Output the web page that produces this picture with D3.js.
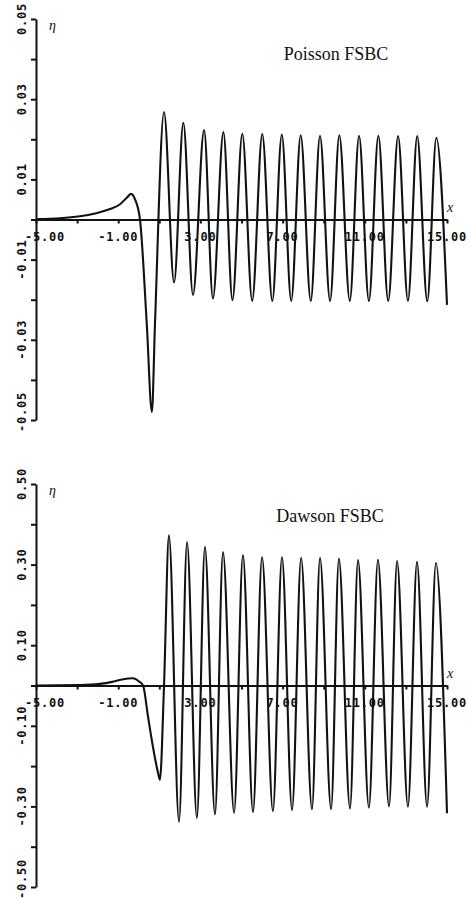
<!DOCTYPE html>
<html><head><meta charset="utf-8">
<script src="https://cdn.jsdelivr.net/npm/d3@7"></script>
<style>
body{margin:0;background:#fff;}
svg{display:block;}
.tl{font-family:"DejaVu Sans Mono",monospace;font-weight:bold;font-size:12px;fill:#111;letter-spacing:0.8px;}
.title{font-family:"Liberation Serif","DejaVu Serif",serif;font-size:18px;fill:#111;}
.sym{font-family:"Liberation Serif","DejaVu Serif",serif;font-size:14px;font-style:italic;fill:#111;}
</style></head><body>
<svg id="chart" width="468" height="900"></svg>
<script>
// ---- data ----
const xTicks = [-5,-3,-1,1,3,5,7,9,11,13,15];
const xLabels = [-5,-1,3,7,11,15];

const poissonYTicks = [-0.05,-0.04,-0.03,-0.02,-0.01,0,0.01,0.02,0.03,0.04,0.05];
const poissonYLabels = [-0.05,-0.03,-0.01,0.01,0.03,0.05];
const dawsonYTicks = [-0.5,-0.4,-0.3,-0.2,-0.1,0,0.1,0.2,0.3,0.4,0.5];
const dawsonYLabels = [-0.5,-0.3,-0.1,0.1,0.3,0.5];

const poissonX = [-5.00,-3.83,-2.86,-2.13,-1.40,-0.91,-0.57,-0.38,-0.18,0.06,0.39,0.64,0.79,1.23,
  1.72,2.17,2.64,3.18,3.61,4.12,4.56,5.04,5.52,6.01,6.50,6.96,7.42,7.88,8.37,8.82,9.31,9.76,
  10.27,10.72,11.20,11.66,12.14,12.62,13.10,13.55,14.04,14.48,15.00];
const poissonEta = [0.0001,0.0003,0.0008,0.0015,0.0026,0.0038,0.0055,0.0064,0.0050,0.0,-0.026,-0.048,-0.026,0.0268,
  -0.0157,0.0241,-0.0188,0.0223,-0.0197,0.0218,-0.0201,0.0214,-0.0203,0.0213,-0.0203,0.0212,-0.0203,0.0210,-0.0203,0.0209,-0.0203,0.0210,
  -0.0203,0.0209,-0.0203,0.0209,-0.0203,0.0208,-0.0203,0.0208,-0.0204,0.0204,-0.0213];

const dawsonX = [-5.00,-2.86,-1.89,-1.30,-0.82,-0.28,0.01,0.21,0.45,0.69,0.94,1.03,1.23,1.47,
  1.96,2.35,2.83,3.22,3.71,4.10,4.64,5.07,5.56,6.00,6.53,6.97,7.46,7.90,8.43,8.82,9.36,9.74,
  10.28,10.67,11.20,11.64,12.18,12.57,13.10,13.54,14.03,14.46,15.00];
const dawsonEta = [0.0,0.001,0.004,0.009,0.015,0.018,0.010,0.0,-0.077,-0.152,-0.217,-0.234,0.0,0.373,
  -0.338,0.356,-0.329,0.344,-0.320,0.331,-0.316,0.324,-0.314,0.319,-0.312,0.319,-0.309,0.317,-0.307,0.317,-0.307,0.315,
  -0.305,0.311,-0.303,0.312,-0.300,0.309,-0.301,0.307,-0.301,0.304,-0.317];

const titles = ["Poisson FSBC","Dawson FSBC"];

// ---- drawing ----
const svg = d3.select("#chart");
const fmtX = d => d.toFixed(2);

function panel(cfg){
  const x = d3.scaleLinear().domain([-5,15]).range([36,447]);
  const y = d3.scaleLinear().domain(cfg.yDomain).range(cfg.yRange);
  const g = svg.append("g");
  const y0 = y(0);
  const yMin = cfg.yDomain[0];

  // y axis
  const ya = g.append("g").attr("transform","translate(36,0)")
    .call(d3.axisLeft(y).tickValues(cfg.yTicks).tickSize(5).tickSizeOuter(0).tickFormat(""));
  ya.selectAll("path,line").attr("stroke","#111").attr("stroke-width",2);

  // x axis at eta = 0
  const xa = g.append("g").attr("transform",`translate(0,${y0})`)
    .call(d3.axisBottom(x).tickValues(xTicks).tickSize(4).tickSizeOuter(0).tickFormat(""));
  xa.selectAll("path,line").attr("stroke","#111").attr("stroke-width",2);

  // x labels
  g.selectAll("text.xl").data(xLabels).join("text")
    .attr("class","tl")
    .attr("x",d=>x(d) + (d===-5?9:0))
    .attr("y",y0+21)
    .attr("text-anchor","middle")
    .text(fmtX);

  // y labels (rotated)
  g.selectAll("text.yl").data(cfg.yLabels).join("text")
    .attr("class","tl")
    .attr("transform",d=>`translate(26,${y(d) - (d===yMin?8:0)}) rotate(-90)`)
    .attr("text-anchor","middle")
    .text(d=>d.toFixed(2));

  // curve
  const pts = cfg.xs.map((v,i)=>[v,cfg.ys[i]]);
  g.append("path").datum(pts)
    .attr("fill","none").attr("stroke","#111").attr("stroke-width",2.1)
    .attr("stroke-linejoin","round")
    .attr("d",d3.line().x(d=>x(d[0])).y(d=>y(d[1])).curve(d3.curveMonotoneX));

  // annotations
  g.append("text").attr("class","title").attr("x",cfg.titleX).attr("y",cfg.titleY)
    .attr("text-anchor","middle").text(cfg.title);
  g.append("text").attr("class","sym").attr("x",49).attr("y",cfg.yRange[1]+11).text("η");
  g.append("text").attr("class","sym").attr("x",447).attr("y",y0-8).text("x");
}

panel({yDomain:[-0.05,0.05], yRange:[420,19], yTicks:poissonYTicks, yLabels:poissonYLabels,
  xs:poissonX, ys:poissonEta, title:titles[0], titleX:336, titleY:60});
panel({yDomain:[-0.5,0.5], yRange:[887,484], yTicks:dawsonYTicks, yLabels:dawsonYLabels,
  xs:dawsonX, ys:dawsonEta, title:titles[1], titleX:330, titleY:522});
</script>
</body></html>
